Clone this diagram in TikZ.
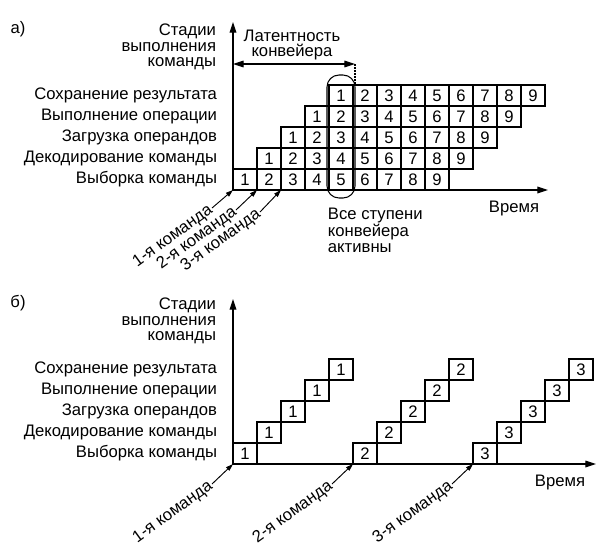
\documentclass[tikz,border=0pt]{standalone}
\usepackage{fontspec}
\setmainfont{Liberation Sans}
\usetikzlibrary{arrows.meta}
\newcommand{\lbl}{\fontsize{12.5}{11.8}\selectfont}
\tikzset{
    every picture/.style={
        line width=0.8pt,
        >={Triangle[length=8pt,width=5pt]}
    },
    % cells of the time diagrams
    cellbox/.style={line width=0.8pt},
    num/.style={font=\lbl,inner sep=0.5pt},
    stage/.style={anchor=east,font=\lbl},
    caption/.style={font=\lbl,align=right,anchor=east},
    axis/.style={->,line width=0.9pt},
    % instruction pointers
    cmd/.style={anchor=east,rotate=36,font=\lbl,inner sep=0.5pt},
    pointer/.style={-{Triangle[length=5.5pt,width=3.5pt]},line width=0.7pt}
}

\begin{document}
\begin{tikzpicture}[x=0.75pt, y=-0.75pt]
    \useasboundingbox (0,0) rectangle (606,554);

    % ---------- a) pipelined execution ----------
    \node[font=\lbl] (tagA) at (18,29) {а)};
    \coordinate (oA) at (233,190);
    \coordinate (yA) at (233,22);
    \coordinate (xA) at (548,190);
    \draw[axis] (oA) -- (yA);
    \draw[axis] (oA) -- (xA);
    \node[caption] (stagesA) at (221,47) {Стадии\\выполнения\\команды};
    \node[stage] (timeA) at (544,208) {Время};

    % stage names
    \foreach \r/\name in {0/Выборка команды,1/Декодирование команды,2/Загрузка операндов,3/Выполнение операции,4/Сохранение результата}
        \node[stage] (sA\r) at ({222},{190-21*\r-10.5}) {\name};

    % staircase of cells
    \foreach \r in {0,...,4}
        \foreach \i in {1,...,9} {
            \draw[cellbox] ({233+24*(\r+\i-1)},{190-21*\r}) rectangle ++(24,-21);
            \node[num] (a\r-\i) at ({233+24*(\r+\i-1)+12},{190-21*\r-10.5}) {\i};
        }

    % all stages busy
    \draw[rounded corners=9pt] (327,75) rectangle (355,198);
    \node[anchor=north west,align=left,font=\lbl] (active) at (323,203) {Все ступени\\конвейера\\активны};

    % latency
    \coordinate (latL) at (233,64);
    \coordinate (latR) at (355,64);
    \coordinate (latD) at (355,84);
    \draw[<->] (latL) -- (latR);
    \draw[densely dotted,line width=1.3pt] (latR) -- (latD);
    \node[font=\lbl,align=center] (latency) at (292,45) {Латентность\\конвейера};

    % instruction entries
    \foreach \k in {1,2,3} {
        \coordinate (inA\k) at ({233+24*(\k-1)},190);
        \node[cmd] (cmdA\k) at ({233+24*(\k-1)-21},{208+2*(\k-1)}) {\k-я команда};
        \draw[pointer] (cmdA\k.east) -- (inA\k);
    }

    % ---------- b) sequential execution ----------
    \node[font=\lbl] (tagB) at (18,303) {б)};
    \coordinate (oB) at (233,464);
    \coordinate (yB) at (233,299);
    \coordinate (xB) at (596,464);
    \draw[axis] (oB) -- (yB);
    \draw[axis] (oB) -- (xB);
    \node[caption] (stagesB) at (221,321) {Стадии\\выполнения\\команды};
    \node[stage] (timeB) at (590,482) {Время};

    \foreach \r/\name in {0/Выборка команды,1/Декодирование команды,2/Загрузка операндов,3/Выполнение операции,4/Сохранение результата}
        \node[stage] (sB\r) at ({222},{464-21*\r-10.5}) {\name};

    \foreach \k in {1,2,3}
        \foreach \r in {0,...,4} {
            \draw[cellbox] ({233+24*(5*(\k-1)+\r)},{464-21*\r}) rectangle ++(24,-21);
            \node[num] (b\k-\r) at ({233+24*(5*(\k-1)+\r)+12},{464-21*\r-10.5}) {\k};
        }

    \foreach \k in {1,2,3} {
        \coordinate (inB\k) at ({233+120*(\k-1)},464);
        \node[cmd] (cmdB\k) at ({233+120*(\k-1)-21},484) {\k-я команда};
        \draw[pointer] (cmdB\k.east) -- (inB\k);
    }
\end{tikzpicture}
\end{document}
